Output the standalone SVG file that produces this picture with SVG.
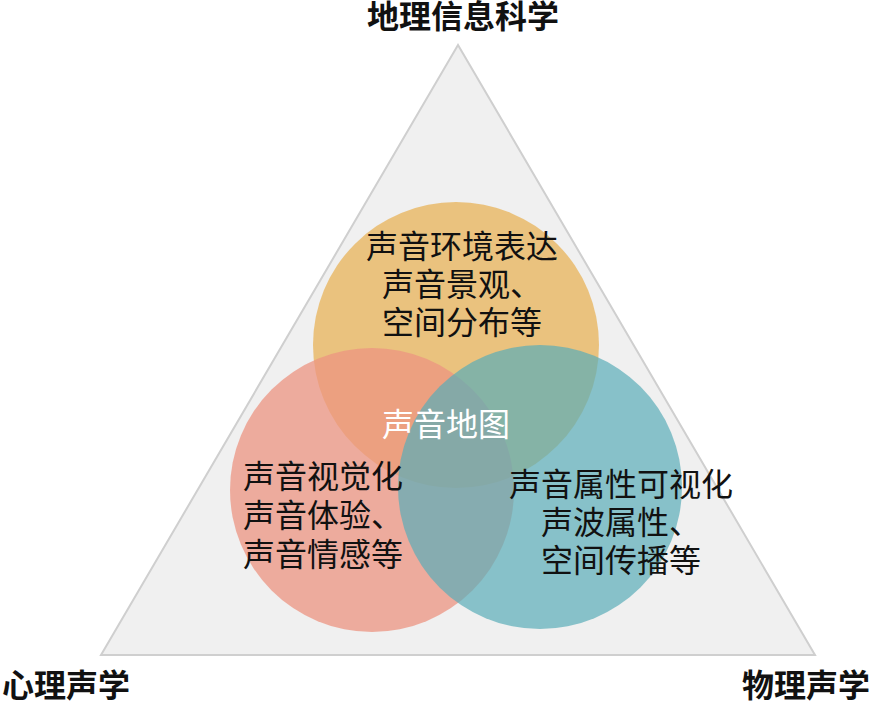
<svg xmlns="http://www.w3.org/2000/svg" width="874" height="702" viewBox="0 0 874 702">
<style>
.t{font-family:"Liberation Serif","Noto Sans CJK SC",serif;font-size:32px;fill:#111;text-anchor:middle}
.b{font-family:"Liberation Serif","Noto Sans CJK SC",sans-serif;font-size:32px;font-weight:bold;fill:#111;text-anchor:middle}
</style>
<rect width="874" height="702" fill="#fff"/>
<g id="triangle"><polygon points="458,45 101,655 815,655" fill="#f0f0f0" stroke="#cfcfcf" stroke-width="2"/></g>
<g id="geo"><circle cx="456" cy="345" r="143" fill="#e8b661" fill-opacity="0.8"/></g>
<g id="psy"><circle cx="372" cy="490" r="142" fill="#ec9482" fill-opacity="0.75"/></g>
<g id="phy"><circle cx="540" cy="487" r="142" fill="#5aacb8" fill-opacity="0.7"/></g>
<g id="connectors"></g>
<g id="labels">
<text class="b" x="463" y="28">地理信息科学</text>
<text class="b" x="66" y="697">心理声学</text>
<text class="b" x="806" y="697">物理声学</text>
<text class="t" x="462" y="258">声音环境表达</text>
<text class="t" x="462" y="296">声音景观、</text>
<text class="t" x="462" y="334">空间分布等</text>
<text class="t" x="446" y="436" style="fill:#fff">声音地图</text>
<text class="t" x="323" y="488">声音视觉化</text>
<text class="t" x="323" y="527">声音体验、</text>
<text class="t" x="323" y="566">声音情感等</text>
<text class="t" x="621" y="496">声音属性可视化</text>
<text class="t" x="621" y="534">声波属性、</text>
<text class="t" x="621" y="572">空间传播等</text>
</g>
</svg>
